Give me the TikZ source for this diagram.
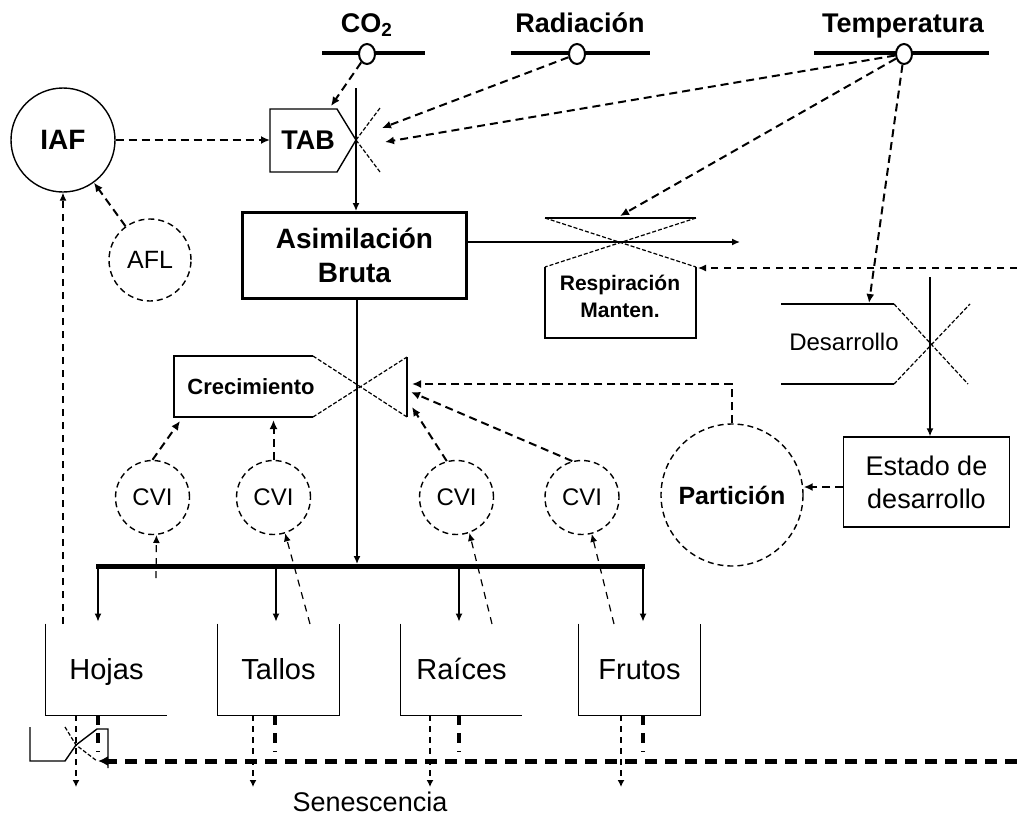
\documentclass[tikz,border=0pt]{standalone}
\usepackage{fontspec}
\setmainfont{Liberation Sans}
\usetikzlibrary{arrows.meta,shapes.geometric}
\newcommand{\fsz}[2]{\fontsize{#1}{#2}\selectfont}

\begin{document}
\begin{tikzpicture}[x=0.5pt,y=-0.5pt,
    flow/.style={line width=0.7pt},
    flowarrow/.style={line width=0.7pt,-{Latex[length=4pt,width=3.5pt]}},
    info/.style={line width=1pt,dash pattern=on 4pt off 2.5pt,-{Latex[length=4.5pt,width=4pt]}},
    thininfo/.style={line width=0.6pt,dash pattern=on 3.5pt off 3pt,-{Latex[length=4pt,width=3.5pt]}},
    valve/.style={line width=0.6pt,dash pattern=on 2pt off 1pt},
    srcbar/.style={line width=2pt},
    src/.style={ellipse,draw,line width=1pt,fill=white,inner sep=0pt,minimum width=8pt,minimum height=10pt},
    hdr/.style={font=\bfseries\fsz{13.5}{16},text height=10pt,text depth=3pt},
    stock/.style={rectangle,draw,inner sep=0pt,align=center},
    aux/.style={circle,draw,line width=0.7pt,inner sep=0pt,align=center},
    cvi/.style={circle,draw,line width=0.7pt,densely dashed,inner sep=0pt,minimum size=37pt,font=\fsz{12}{14}},
    organ/.style={rectangle,inner sep=0pt,minimum width=60.5pt,minimum height=45.5pt,
      text height=10.5pt,text depth=0.5pt,font=\fsz{14.5}{17}},
    sen/.style={line width=2pt,dash pattern=on 5pt off 4pt},
    senline/.style={line width=2.5pt,dash pattern=on 6pt off 4pt,-{Latex[length=5pt,width=5pt]}},
    senout/.style={line width=0.7pt,dash pattern=on 3pt off 2.5pt,-{Latex[length=3.5pt,width=3.5pt]}}]
  \useasboundingbox (0,0) rectangle (1017,815);
  \node[hdr] (co2) at (367,25) {CO\textsubscript{2}};
  \node[hdr] (rad) at (580,25) {Radiación};
  \node[hdr] (temp) at (903,25) {Temperatura};
  \draw[srcbar] (322,53) -- (425,53);
  \draw[srcbar] (511,53) -- (650,53);
  \draw[srcbar] (814,53) -- (989,53);
  \node[src] (co2s) at (367,54) {};
  \node[src] (rads) at (577,54) {};
  \node[src] (temps) at (904,54) {};

  \coordinate (tabv) at (356,140);
  \coordinate (tabtop) at (356,88);
  \coordinate (tabw) at (270,140);
  \coordinate (tabin1) at (331,106);
  \coordinate (tabin2) at (382,128);
  \coordinate (tabin3) at (385,142);
  \draw[flow] (tabv) -- (337,109) -- (270,109) -- (270,172) -- (337,172) -- (tabv);
  \draw[valve] (tabv) -- (380,108) (tabv) -- (380,172);
  \node[font=\bfseries\fsz{13.5}{16}] (tab) at (308,140) {TAB};

  \node[stock,line width=1.5pt,minimum width=112pt,minimum height=43pt,
    font=\bfseries\fsz{14}{17}] (asim) at (354.5,255.5) {Asimilación\\Bruta};
  \draw[flowarrow] (tabtop) -- (asim.north -| tabv);

  \node[aux,minimum size=52pt,font=\bfseries\fsz{14}{16}] (iaf) at (63,140) {IAF};
  \node[aux,densely dashed,minimum size=41pt,font=\fsz{12.5}{15}] (afl) at (150,260) {AFL};
  \draw[info] (iaf) -- (tabw);
  \draw[info] (afl) -- (iaf);
  \draw[info] (co2s) -- (tabin1);
  \draw[info] (rads) -- (tabin2);
  \draw[info] (temps) -- (tabin3);

  \coordinate (respv) at (620,242);
  \coordinate (respout) at (740,242);
  \coordinate (resptop) at (620,216);
  \coordinate (respin) at (1017,268);
  \coordinate (respe) at (698,268);
  \draw[flow] (545,218) -- (696,218);
  \draw[valve] (545,218) -- (696,267) (696,218) -- (545,267);
  \draw[flow] (545,267) -- (545,338) -- (696,338) -- (696,267);
  \node[font=\bfseries\fsz{10.5}{13.5},align=center] (resp) at (620,296) {Respiración\\Manten.};
  \draw[flowarrow] (asim.east |- respv) -- (respout);
  \draw[info] (temps) -- (resptop);
  \draw[thininfo] (respin) -- (respe);

  \coordinate (desv) at (930,344);
  \coordinate (desin) at (930,277);
  \coordinate (destop) at (869,303);
  \draw[flow] (781,304) -- (894,304);
  \draw[flow] (781,384) -- (894,384);
  \draw[valve] (894,304) -- (968,384) (894,384) -- (970,304);
  \node[font=\fsz{12}{14}] (des) at (844,342) {Desarrollo};
  \draw[info] (temps) -- (destop);
  \node[stock,line width=0.7pt,minimum width=83pt,minimum height=45pt,
    font=\fsz{13.5}{16.5}] (estado) at (926.5,482) {Estado de\\desarrollo};
  \draw[flowarrow] (desin) -- (estado.north -| desv);

  \node[aux,densely dashed,minimum size=71pt,font=\bfseries\fsz{12.5}{15}] (part) at (732,495) {Partición};
  \coordinate (estw) at (843,487);
  \draw[info] (estw) -- (part.east |- estw);

  \coordinate (crecv) at (357,387);
  \coordinate (crecin1) at (412,384);
  \coordinate (crecin2) at (411,392);
  \coordinate (crecin3) at (412,407);
  \coordinate (crecb1) at (180,421);
  \coordinate (crecb2) at (273.5,420);
  \draw[flow] (313,356) -- (174,356) -- (174,417) -- (313,417);
  \draw[valve] (313,356) -- (407,417) (313,417) -- (407,357);
  \draw[flow] (407,357) -- (407,417);
  \node[font=\bfseries\fsz{11}{13}] (crec) at (251,387) {Crecimiento};
  \draw[info] (part.north) |- (crecin1);

  \node[cvi] (cvi1) at (152.5,497.5) {CVI};
  \node[cvi] (cvi2) at (273.5,497.5) {CVI};
  \node[cvi] (cvi3) at (456.5,497.5) {CVI};
  \node[cvi] (cvi4) at (582,497.5) {CVI};
  \draw[info] (cvi1.north) -- (crecb1);
  \draw[info] (cvi2.north) -- (crecb2);
  \draw[info] (cvi3.105) -- (crecin3);
  \draw[info] (cvi4.105) -- (crecin2);

  \coordinate (barl) at (96,566);
  \coordinate (barm) at (357,564);
  \coordinate (barr) at (645,566);
  \draw[flowarrow] (asim.south -| crecv) -- (barm);
  \draw[line width=2.5pt] (barl) -- (barr);

  \node[organ] (hojas) at (106.5,669.5) {Hojas};
  \node[organ] (tallos) at (278.5,669.5) {Tallos};
  \node[organ] (raices) at (461.5,669.5) {Raíces};
  \node[organ] (frutos) at (639.5,669.5) {Frutos};
  \draw[flow] (hojas.north west) -- (hojas.south west) -- (hojas.south east);
  \draw[flow] (tallos.north west) -- (tallos.south west) -- (tallos.south east) -- (tallos.north east);
  \draw[flow] (raices.north west) -- (raices.south west) -- (raices.south east);
  \draw[flow] (frutos.north west) -- (frutos.south west) -- (frutos.south east) -- (frutos.north east);

  \foreach \o/\x in {hojas/98,tallos/276,raices/459,frutos/643}{
    \coordinate (b-\o) at (\x,566);
    \draw[flowarrow] (b-\o) -- ([yshift=1pt]\o.north -| b-\o);
  }
  \coordinate (fb-hojas) at (156,578);
  \foreach \o/\x in {tallos/310,raices/492,frutos/614}
    \coordinate (fb-\o) at (\x,624);
  \draw[thininfo] (fb-hojas) -- (cvi1.-84);
  \draw[thininfo] (fb-tallos) -- (cvi2.-72);
  \draw[thininfo] (fb-raices) -- (cvi3.-70);
  \draw[thininfo] (fb-frutos) -- (cvi4.-75);

  \coordinate (iafin) at (63,624);
  \draw[thininfo] (iafin) -- (iaf);

  \coordinate (hv) at (76,745);
  \draw[flow] (30,727) -- (30,761) -- (65,761) -- (hv) -- (97,729) -- (108,729) -- (108,768);
  \draw[valve] (65,727) -- (hv) -- (97,761);
  \foreach \o/\x/\y in {hojas/98/76,tallos/275/253,raices/459/430,frutos/643/621}{
    \coordinate (s-\o) at (\x,752);
    \coordinate (so-\o) at (\y,787);
    \draw[sen] (\o.south -| s-\o) -- (s-\o);
    \draw[senout] (\o.south -| so-\o) -- (so-\o);
  }
  \coordinate (senr) at (1017,761);
  \coordinate (senl) at (98,761);
  \draw[senline] (senr) -- (senl);
  \node[font=\fsz{13.5}{16}] (senes) at (370,802) {Senescencia};
\end{tikzpicture}
\end{document}
